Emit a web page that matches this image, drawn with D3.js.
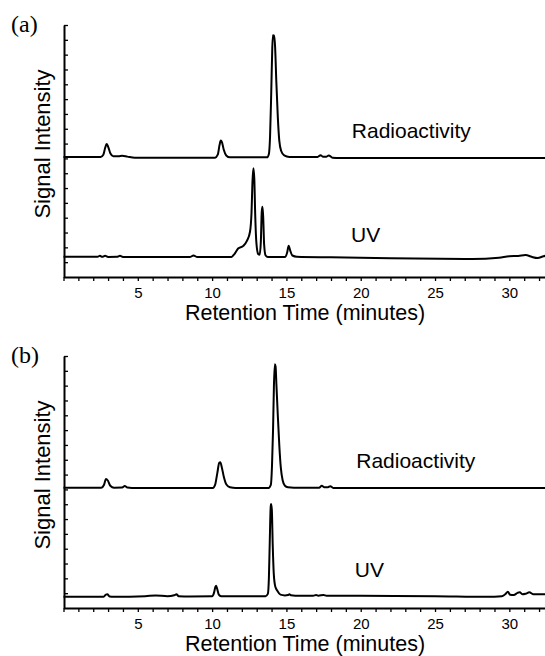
<!DOCTYPE html>
<html>
<head>
<meta charset="utf-8">
<script src="https://cdn.jsdelivr.net/npm/d3@7"></script>
<style>
  body { margin: 0; background: white; }
</style>
</head>
<body>
<div id="container"></div>
<script>
// retention time (minutes), signal in tick units
let radioA = [[0,8.1],[2.5,8.1],[2.68,8.25],[2.8,8.7],[2.9,8.97],[3.0,8.8],[3.15,8.35],[3.35,8.15],[3.7,8.15],[3.95,8.18],[4.3,8.12],[4.8,8.05],[10.2,8.05],[10.38,8.25],[10.5,8.9],[10.58,9.2],[10.66,9.1],[10.78,8.6],[10.95,8.2],[11.2,8.07],[13.7,8.07],[13.82,8.3],[13.9,9.5],[13.98,12.5],[14.05,15.5],[14.1,16.33],[14.14,16.1],[14.18,16.3],[14.24,15.5],[14.32,13.2],[14.42,10.8],[14.52,9.2],[14.65,8.5],[14.85,8.2],[15.2,8.1],[17.1,8.1],[17.3,8.22],[17.45,8.12],[17.7,8.12],[17.85,8.2],[18.1,8.05],[18.6,8.02],[32.5,8.02]];

let uvA = [[0,1.37],[2.3,1.37],[2.45,1.43],[2.6,1.36],[2.8,1.43],[3.0,1.35],[3.6,1.36],[3.8,1.43],[4.0,1.35],[8.5,1.35],[8.75,1.45],[9.0,1.35],[11.3,1.35],[11.5,1.55],[11.75,1.92],[12.1,2.1],[12.35,2.45],[12.55,3.05],[12.65,4.3],[12.72,6.5],[12.78,7.33],[12.84,6.6],[12.9,4.2],[12.98,2.3],[13.1,1.55],[13.2,1.5],[13.28,2.4],[13.34,4.4],[13.39,4.74],[13.44,4.0],[13.5,2.2],[13.6,1.45],[13.75,1.35],[14.9,1.35],[15.05,1.65],[15.15,2.11],[15.25,1.8],[15.4,1.45],[15.7,1.37],[18,1.33],[22,1.27],[27.5,1.22],[29.3,1.3],[30.0,1.4],[30.6,1.42],[31.1,1.48],[31.5,1.36],[31.9,1.28],[32.3,1.4],[32.5,1.45]];

let radioB = [[0,8.12],[2.55,8.12],[2.72,8.3],[2.86,8.7],[2.98,8.6],[3.15,8.25],[3.4,8.12],[3.95,8.13],[4.12,8.23],[4.3,8.13],[4.6,8.1],[10.05,8.1],[10.2,8.3],[10.35,9.1],[10.48,9.8],[10.55,9.83],[10.65,9.5],[10.8,8.8],[10.95,8.35],[11.2,8.15],[11.6,8.1],[13.8,8.1],[13.95,8.3],[14.03,9.6],[14.1,12.0],[14.16,15.0],[14.22,16.44],[14.27,16.3],[14.33,15.0],[14.42,13.0],[14.52,11.0],[14.62,9.5],[14.75,8.6],[14.9,8.25],[15.1,8.15],[15.5,8.12],[17.2,8.12],[17.38,8.24],[17.55,8.15],[17.8,8.15],[17.95,8.22],[18.15,8.1],[18.6,8.1],[32.5,8.1]];

let uvB = [[0,0.76],[2.7,0.76],[2.85,0.9],[2.95,0.92],[3.1,0.78],[3.4,0.76],[5.5,0.8],[6.2,0.85],[7.0,0.8],[7.45,0.86],[7.6,0.92],[7.75,0.8],[8.5,0.78],[10.0,0.79],[10.12,1.0],[10.22,1.42],[10.27,1.5],[10.34,1.3],[10.45,0.9],[10.6,0.8],[13.6,0.8],[13.75,0.95],[13.82,2.0],[13.88,4.5],[13.94,6.8],[13.97,7.02],[14.02,6.6],[14.08,4.2],[14.15,2.3],[14.25,1.45],[14.4,1.15],[14.6,0.9],[14.9,0.85],[15.1,0.87],[15.2,0.93],[15.3,0.86],[15.6,0.83],[16.8,0.83],[17.0,0.88],[17.15,0.83],[17.5,0.88],[17.7,0.83],[20,0.82],[25,0.8],[28.5,0.76],[29.5,0.8],[29.75,0.95],[29.9,1.1],[30.05,0.9],[30.3,0.88],[30.55,1.02],[30.7,1.06],[30.9,0.92],[31.1,0.96],[31.35,1.06],[31.6,0.93],[32.0,0.92],[32.5,0.94]];

let xTicks = d3.range(0, 33);          // minor ticks every minute
let xLabels = [5, 10, 15, 20, 25, 30]; // labelled ticks
let yTicks = d3.range(1, 18);

// trace labels: [text, minutes, signal]
let labelsA = [["Radioactivity", 19.4, 9.36], ["UV", 19.35, 2.36]];
let labelsB = [["Radioactivity", 19.7, 9.45], ["UV", 19.6, 2.09]];

let w = 545;
let h = 656;

let viz = d3.select("#container")
  .append("svg")
    .attr("width", w)
    .attr("height", h)
    .style("background-color", "white")
;

let xScale = d3.scaleLinear().domain([0, 32.4]).range([63.5, 545]);

function drawPanel(tag, top, bottom, radio, uv, labels){
  let yScale = d3.scaleLinear().domain([0, 17]).range([bottom, top]);
  let g = viz.append("g");

  // x axis, ticks pointing down
  let xAxis = d3.axisBottom(xScale)
    .tickValues(xTicks)
    .tickSize(4)
    .tickSizeOuter(0)
    .tickFormat(function(d){ return xLabels.includes(d) ? d : ""; });
  let xAxisGroup = g.append("g")
    .attr("transform", "translate(0," + bottom + ")")
    .call(xAxis);
  xAxisGroup.select(".domain").attr("stroke-width", 2);
  xAxisGroup.selectAll(".tick line").attr("stroke-width", 1.3);
  xAxisGroup.selectAll(".tick text")
    .attr("font-family", "Liberation Sans, Arial, sans-serif")
    .attr("font-size", "15px")
    .attr("fill", "black")
    .attr("dy", "0.71em")
    .attr("y", 10);

  // y axis, ticks pointing in
  let yAxis = d3.axisRight(yScale)
    .tickValues(yTicks)
    .tickSize(4)
    .tickSizeOuter(0)
    .tickFormat("");
  let yAxisGroup = g.append("g")
    .attr("transform", "translate(" + Math.round(xScale(0)) + ",0)")
    .call(yAxis);
  yAxisGroup.select(".domain").attr("stroke-width", 2);
  yAxisGroup.selectAll(".tick line").attr("stroke-width", 1.3);

  let line = d3.line()
    .x(function(d){ return xScale(d[0]); })
    .y(function(d){ return yScale(d[1]); })
    .curve(d3.curveMonotoneX);

  g.selectAll(".trace").data([radio, uv]).enter()
    .append("path")
      .attr("class", "trace")
      .attr("d", line)
      .attr("fill", "none")
      .attr("stroke", "black")
      .attr("stroke-width", 2)
      .attr("stroke-linejoin", "round")
  ;

  g.selectAll(".tlabel").data(labels).enter()
    .append("text")
      .attr("class", "tlabel")
      .attr("x", function(d){ return xScale(d[1]); })
      .attr("y", function(d){ return yScale(d[2]); })
      .text(function(d){ return d[0]; })
      .attr("font-family", "Liberation Sans, Arial, sans-serif")
      .attr("font-size", "21px")
  ;

  // axis titles
  g.append("text")
    .attr("x", 305)
    .attr("y", bottom + 43)
    .attr("text-anchor", "middle")
    .attr("font-family", "Liberation Sans, Arial, sans-serif")
    .attr("font-size", "21.5px")
    .text("Retention Time (minutes)");

  g.append("text")
    .attr("transform", "translate(50," + (top + 119) + ") rotate(-90)")
    .attr("text-anchor", "middle")
    .attr("font-family", "Liberation Sans, Arial, sans-serif")
    .attr("font-size", "22px")
    .text("Signal Intensity");

  g.append("text")
    .attr("x", 11)
    .attr("y", top + 7)
    .attr("font-family", "Liberation Serif, Times New Roman, serif")
    .attr("font-size", "24px")
    .text(tag);
}

drawPanel("(a)", 25, 277, radioA, uvA, labelsA);
drawPanel("(b)", 356, 608, radioB, uvB, labelsB);
</script>
</body>
</html>
